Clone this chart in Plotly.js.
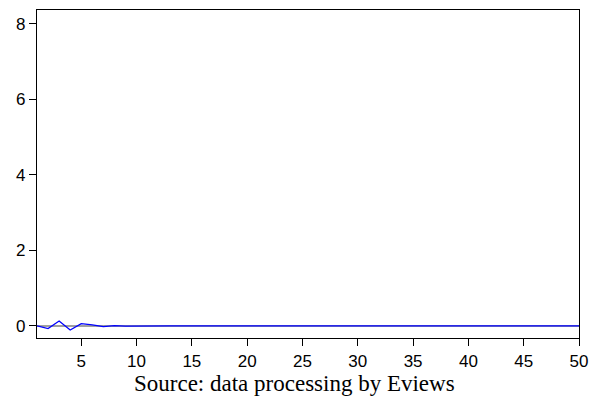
<!DOCTYPE html>
<html><head><meta charset="utf-8">
<script src="https://cdn.plot.ly/plotly-3.0.1.min.js"></script>
<style>html,body{margin:0;padding:0;background:#fff;}#chart{width:592px;height:403px;}</style>
</head><body><div id="chart"></div>
<script>
const periods = Array.from({length: 50}, (_, i) => i + 1);
const response = [0.0, -0.07, 0.13, -0.11, 0.06, 0.03, -0.02, 0.01, -0.005, 0.0, 0.004, -0.002, 0.001, 0.0,
  0, 0, 0, 0, 0, 0, 0, 0, 0, 0, 0, 0, 0, 0, 0, 0, 0, 0, 0, 0, 0, 0, 0, 0, 0, 0, 0, 0, 0, 0, 0, 0, 0, 0, 0, 0];
const xTicks = [5, 10, 15, 20, 25, 30, 35, 40, 45, 50];
const yTicks = [0, 2, 4, 6, 8];
const caption = "Source: data processing by Eviews";

const traces = [
  {x: [1, 50], y: [0, 0], mode: 'lines', line: {color: '#808080', width: 1.5}, hoverinfo: 'skip', showlegend: false},
  {x: periods, y: response, mode: 'lines', line: {color: '#0000ff', width: 1.3}, showlegend: false}
];
const layout = {
  width: 592, height: 403,
  margin: {l: 37, r: 13, t: 10, b: 65},
  paper_bgcolor: '#fff', plot_bgcolor: '#fff',
  font: {family: 'Liberation Sans, Arial, sans-serif', size: 17, color: '#000'},
  xaxis: {range: [1, 50], tickvals: xTicks, ticktext: xTicks.map(String), ticks: 'outside', ticklen: 7,
    tickcolor: '#000', showline: true, linecolor: '#000', linewidth: 1.2, mirror: true, showgrid: false, zeroline: false,
    tickfont: {size: 17}},
  yaxis: {range: [-0.32, 8.37], tickvals: yTicks, ticktext: yTicks.map(String), ticks: 'outside', ticklen: 7,
    tickcolor: '#000', showline: true, linecolor: '#000', linewidth: 1.2, mirror: true, showgrid: false, zeroline: false,
    tickfont: {size: 17}},
  annotations: [{text: caption, xref: 'paper', yref: 'paper', x: 0.476, y: -0.14, xanchor: 'center', yanchor: 'middle',
    showarrow: false, font: {family: 'Liberation Serif, Times New Roman, serif', size: 23, color: '#000'}}]
};
Plotly.newPlot('chart', traces, layout, {displayModeBar: false, staticPlot: true});
</script></body></html>
